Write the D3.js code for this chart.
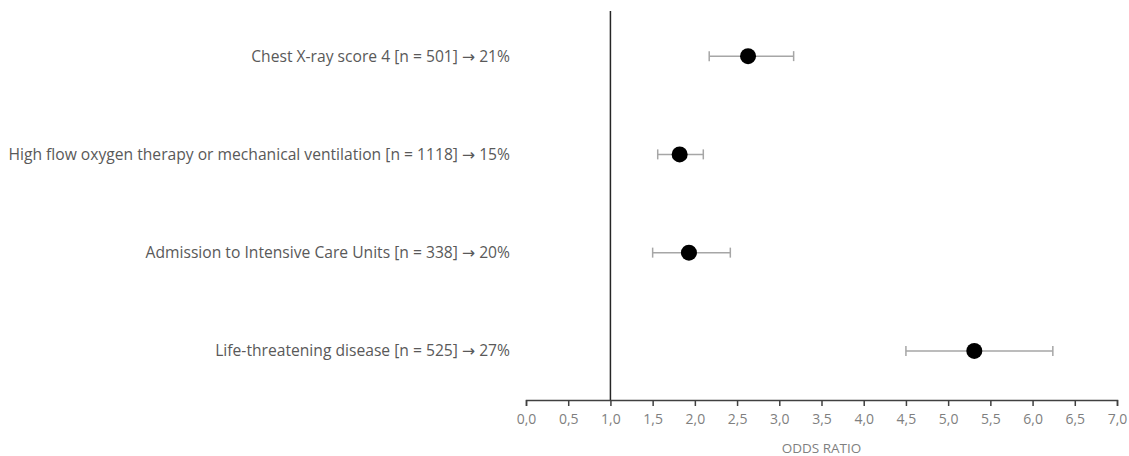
<!DOCTYPE html>
<html>
<head>
<meta charset="utf-8">
<script src="https://cdn.jsdelivr.net/npm/d3@7/dist/d3.min.js"></script>
<style>
  body { margin: 0; background: #fff; }
  svg { display: block; }
  text { font-family: "Open Sans", "Noto Sans", sans-serif; fill: #595959; }
</style>
</head>
<body>
<svg id="chart" width="1129" height="456"></svg>
<script>
const categories = [
  "Chest X-ray score 4 [n = 501] \u2192 21%",
  "High flow oxygen therapy or mechanical ventilation [n = 1118] \u2192 15%",
  "Admission to Intensive Care Units [n = 338] \u2192 20%",
  "Life-threatening disease [n = 525] \u2192 27%"
];
const oddsRatio = [2.63, 1.82, 1.93, 5.31];
const ciLower = [2.17, 1.56, 1.50, 4.50];
const ciUpper = [3.17, 2.10, 2.42, 6.24];
const xTicks = [0, 0.5, 1, 1.5, 2, 2.5, 3, 3.5, 4, 4.5, 5, 5.5, 6, 6.5, 7];
const xTitle = "ODDS RATIO";
const refValue = 1;

const svg = d3.select("#chart");
const x = d3.scaleLinear().domain([0, 7]).range([526, 1117]);
const y = d3.scaleBand().domain(categories).range([7, 400]);
const yc = c => y(c) + y.bandwidth() / 2;
const fmt = v => d3.format(".1f")(v).replace(".", ",");

// x axis
const xAxis = d3.axisBottom(x).tickValues(xTicks).tickFormat(fmt).tickSizeOuter(0).tickSize(6).tickPadding(8);
const gx = svg.append("g").attr("transform", "translate(0,400)").call(xAxis);
gx.select(".domain").attr("stroke", "#404040").attr("stroke-width", 1.5);
gx.selectAll(".tick line").attr("stroke", "#404040").attr("stroke-width", 1.5);
gx.selectAll(".tick text").style("font-size", "14px").style("fill", "#7f7f7f")
  .style("font-family", "'Open Sans', sans-serif");

svg.append("text").attr("x", (x(0) + x(7)) / 2).attr("y", 449).attr("dy", "0.32em")
  .attr("text-anchor", "middle").style("font-size", "13.5px").style("fill", "#7f7f7f")
  .text(xTitle);

// reference line
svg.append("line").attr("x1", x(refValue)).attr("x2", x(refValue))
  .attr("y1", 11).attr("y2", 400).attr("stroke", "#262626").attr("stroke-width", 1.5);

// category labels (arrow drawn in a font with a full-width arrow glyph)
const labels = svg.append("g").selectAll("text").data(categories).join("text")
  .attr("x", 510).attr("y", d => yc(d)).attr("dy", "0.35em")
  .attr("text-anchor", "end").style("font-size", "15px").style("fill", "#595959");
labels.each(function(d) {
  const parts = d.split("\u2192");
  const t = d3.select(this);
  t.append("tspan").text(parts[0]);
  t.append("tspan").style("font-family", "'DejaVu Sans', sans-serif").text("\u2192");
  t.append("tspan").text(parts[1]);
});
// fit longest label to the width seen in the reference (x 8 .. 510)
let maxW = 0;
labels.each(function() { maxW = Math.max(maxW, this.getComputedTextLength()); });
const fs = 15 * 502 / maxW;
labels.style("font-size", fs + "px");

// error bars
const g = svg.append("g");
categories.forEach((c, i) => {
  const cy = yc(c);
  g.append("line").attr("x1", x(ciLower[i])).attr("x2", x(ciUpper[i]))
    .attr("y1", cy).attr("y2", cy).attr("stroke", "#a6a6a6").attr("stroke-width", 1.5);
  [ciLower[i], ciUpper[i]].forEach(v => {
    g.append("line").attr("x1", x(v)).attr("x2", x(v))
      .attr("y1", cy - 5).attr("y2", cy + 5).attr("stroke", "#a6a6a6").attr("stroke-width", 1.5);
  });
  g.append("circle").attr("cx", x(oddsRatio[i])).attr("cy", cy).attr("r", 8).attr("fill", "#000");
});
</script>
</body>
</html>
